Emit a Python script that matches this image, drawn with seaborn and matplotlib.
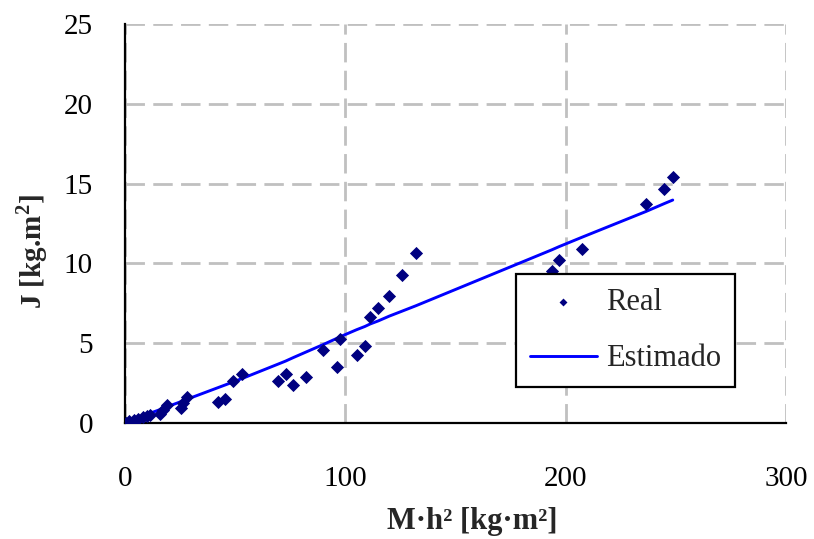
import matplotlib
matplotlib.use("Agg")
import matplotlib.pyplot as plt
import seaborn as sns
import pandas as pd

# Real data (M·h², J)
real_x = [0.5, 2.0, 4.0, 6.0, 8.0, 10.0, 11.5, 15.9, 17.4, 19.2, 25.4, 26.2, 28.0,
          42.3, 45.4, 49.2, 53.0, 69.3, 72.9, 76.4, 82.2, 89.7, 96.1, 97.6,
          105.2, 108.9, 111.2, 115.0, 120.0, 125.6, 132.1, 193.7, 197.0, 207.6,
          236.4, 244.8, 248.6]
real_y = [0.03, 0.10, 0.20, 0.28, 0.35, 0.42, 0.48, 0.56, 0.82, 1.13, 0.92, 1.24, 1.61,
          1.30, 1.51, 2.66, 3.08, 2.64, 3.08, 2.40, 2.91, 4.56, 3.50, 5.27,
          4.27, 4.85, 6.64, 7.20, 7.97, 9.29, 10.65, 9.50, 10.19, 10.90,
          13.73, 14.67, 15.40]
# Estimated values at the same M·h²
est_y = [0.03, 0.10, 0.20, 0.32, 0.43, 0.53, 0.62, 0.84, 0.92, 1.02, 1.34, 1.38, 1.48,
         2.22, 2.38, 2.58, 2.78, 3.68, 3.88, 4.10, 4.45, 4.90, 5.30, 5.40,
         5.85, 6.05, 6.20, 6.40, 6.70, 7.00, 7.35, 10.85, 11.05, 11.65,
         13.25, 13.75, 13.97]

x_ticks = [0, 100, 200, 300]
y_ticks = [0, 5, 10, 15, 20, 25]

df = pd.DataFrame({"x": real_x, "real": real_y, "est": est_y})

sns.set_style("white")
plt.rcParams["font.family"] = ["Liberation Serif", "DejaVu Serif"]
plt.rcParams["mathtext.fontset"] = "custom"
plt.rcParams["mathtext.rm"] = "Liberation Serif"
plt.rcParams["mathtext.bf"] = "Liberation Serif:bold"

fig = plt.figure(figsize=(8.14, 5.39), dpi=100)
# axes from x=125..786 px, y=24..423 px
ax = fig.add_axes([125 / 814, 1 - 423 / 539, 661 / 814, 399 / 539])

sns.lineplot(data=df, x="x", y="est", ax=ax, color="#0000FF", linewidth=2.1,
             estimator=None, sort=False, label="Estimado", zorder=3)
sns.scatterplot(data=df, x="x", y="real", ax=ax, color="#000080", marker="D",
                s=45, edgecolor="#000080", linewidth=0, label="Real", zorder=4)

ax.set_xlim(0, 300)
ax.set_ylim(0, 25)
ax.set_xticks(x_ticks)
ax.set_yticks(y_ticks)
ax.grid(True, color="#C0C0C0", linestyle=(0, (7, 3)), linewidth=2)
ax.set_axisbelow(True)
for s in ["top", "right"]:
    ax.spines[s].set_visible(False)
for s in ["left", "bottom"]:
    ax.spines[s].set_color("black")
    ax.spines[s].set_linewidth(1.6)

ax.tick_params(axis="both", direction="out", length=7, width=1.6, colors="black",
               labelsize=21)
ax.tick_params(axis="y", pad=16)
ax.tick_params(axis="x", pad=23, length=8)

ax.set_xlabel("M·h² [kg·m²]", fontsize=22, fontweight="bold")
ax.set_ylabel(r"J [kg.m$^{\mathbf{2}}$]", fontsize=21, fontweight="bold")
ax.xaxis.set_label_coords((472 - 125) / 661, (423 - 507) / 399)
ax.yaxis.set_label_coords((50 - 125) / 661, (423 - 252) / 399)

handles, labels = ax.get_legend_handles_labels()
order = [labels.index("Real"), labels.index("Estimado")]
leg = ax.legend([handles[i] for i in order], [labels[i] for i in order],
                loc="upper left", bbox_to_anchor=(516 / 814, 1 - 274 / 539),
                bbox_transform=fig.transFigure, fontsize=22, frameon=True,
                fancybox=False, edgecolor="black", framealpha=1,
                handlelength=2.2, labelspacing=0.9, borderpad=0.45,
                handletextpad=0.3, markerscale=0.6, borderaxespad=0)
leg.get_frame().set_linewidth(1.6)

fig.savefig("out.png", dpi=100)
